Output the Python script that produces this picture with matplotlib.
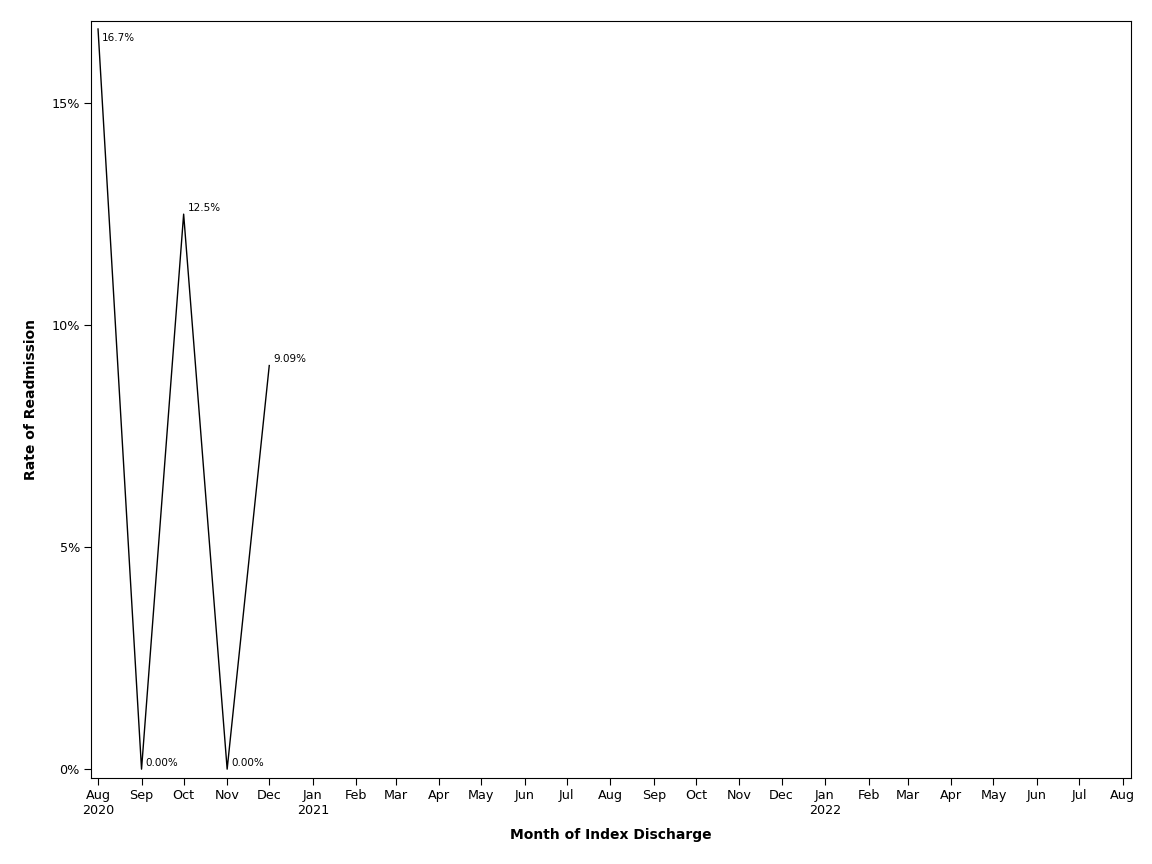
import matplotlib
matplotlib.use('Agg')
import matplotlib.pyplot as plt
import matplotlib.ticker as mticker
import datetime as dt

months = ['2020-08-01', '2020-09-01', '2020-10-01', '2020-11-01', '2020-12-01']
rates = [16.67, 0.0, 12.5, 0.0, 9.09]
point_labels = ['16.7%', '0.00%', '12.5%', '0.00%', '9.09%']

dates = [dt.datetime.strptime(m, '%Y-%m-%d') for m in months]

plt.rcParams['font.family'] = ['DejaVu Sans']

fig = plt.figure(figsize=(11.52, 8.64), dpi=100)
ax = fig.add_axes([0.079, 0.0995, 0.9028, 0.8762])

ax.plot(dates, rates, color='black', linewidth=1)

for d, r, lab in zip(dates, rates, point_labels):
    if r > 16:
        ax.annotate(lab, (d, r), xytext=(3, -3), textcoords='offset points',
                    ha='left', va='top', fontsize=7.5)
    else:
        ax.annotate(lab, (d, r), xytext=(3, 1), textcoords='offset points',
                    ha='left', va='bottom', fontsize=7.5)

ax.set_xlim(dt.datetime(2020, 7, 27), dt.datetime(2022, 8, 7))
ax.set_ylim(-0.2, 16.85)

# monthly ticks, year shown on Aug 2020 and each January
ticks = []
labels = []
y, m = 2020, 8
while (y, m) <= (2022, 8):
    d = dt.datetime(y, m, 1)
    ticks.append(d)
    if (y, m) == (2020, 8) or m == 1:
        labels.append(d.strftime('%b') + '\n' + str(y))
    else:
        labels.append(d.strftime('%b'))
    m += 1
    if m > 12:
        m = 1
        y += 1
ax.set_xticks(ticks)
ax.set_xticklabels(labels, fontsize=9.2)

ax.set_yticks([0, 5, 10, 15])
ax.yaxis.set_major_formatter(mticker.FuncFormatter(lambda v, p: f'{v:.0f}%'))
ax.tick_params(axis='y', labelsize=9.2)
ax.tick_params(direction='out', length=5, width=0.8, pad=3)

ax.set_xlabel('Month of Index Discharge', fontsize=10, fontweight='bold', labelpad=8)
ax.set_ylabel('Rate of Readmission', fontsize=10, fontweight='bold', labelpad=10)

fig.savefig('out.png', dpi=100, facecolor='white')
